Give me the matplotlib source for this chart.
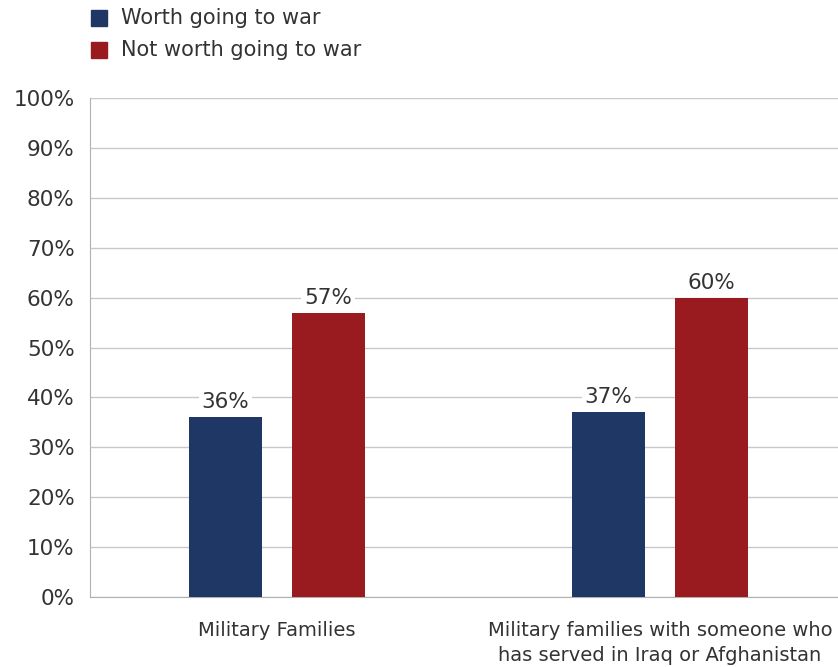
import numpy as np
import matplotlib.pyplot as plt
from matplotlib.patches import Rectangle

# Data
categories = ["Military Families", "Military families with someone who\nhas served in Iraq or Afghanistan"]
worth = [36, 37]
not_worth = [57, 60]
series_names = ["Worth going to war", "Not worth going to war"]
colors = ["#1e3765", "#9a1b1f"]

fig = plt.figure(figsize=(8.38, 6.67), dpi=100)
ax = fig.add_axes([90/838, 70/667, 748/838, 499/667])

x = np.arange(len(categories))
w = 0.19
off = 0.134
b1 = ax.bar(x - off, worth, w, color=colors[0], zorder=3)
b2 = ax.bar(x + off, not_worth, w, color=colors[1], zorder=3)

for bars, vals in [(b1, worth), (b2, not_worth)]:
    for r, v in zip(bars, vals):
        ax.text(r.get_x() + r.get_width()/2, v + 1.0, f"{v}%", ha="center", va="bottom",
                fontsize=15.5, color="#333333", zorder=4,
                bbox=dict(facecolor="white", edgecolor="none", pad=2))

ax.set_ylim(0, 100)
ax.set_xlim(-0.488, 1.465)
ax.set_yticks(range(0, 101, 10))
ax.set_yticklabels([f"{t}%" for t in range(0, 101, 10)], fontsize=15.5, color="#333333")
ax.set_xticks(x)
ax.set_xticklabels(categories, fontsize=14, color="#333333", va="top", linespacing=1.45)
ax.tick_params(axis="x", length=0, pad=17)
ax.tick_params(axis="y", length=0, pad=11)
ax.grid(axis="y", color="#c8c8c8", linewidth=1, zorder=0)
for s in ["top", "right"]:
    ax.spines[s].set_visible(False)
ax.spines["left"].set_color("#b0b0b0")
ax.spines["bottom"].set_color("#b0b0b0")

# legend drawn at top left
for i, (name, c) in enumerate(zip(series_names, colors)):
    yc = 1 - (18 + 32*i)/667
    fig.patches.append(Rectangle((91/838, yc - 8/667), 16/838, 16/667, color=c,
                                 transform=fig.transFigure, figure=fig))
    fig.text(121/838, yc, name, fontsize=15, color="#333333", va="center")

fig.savefig("out.png", dpi=100)
